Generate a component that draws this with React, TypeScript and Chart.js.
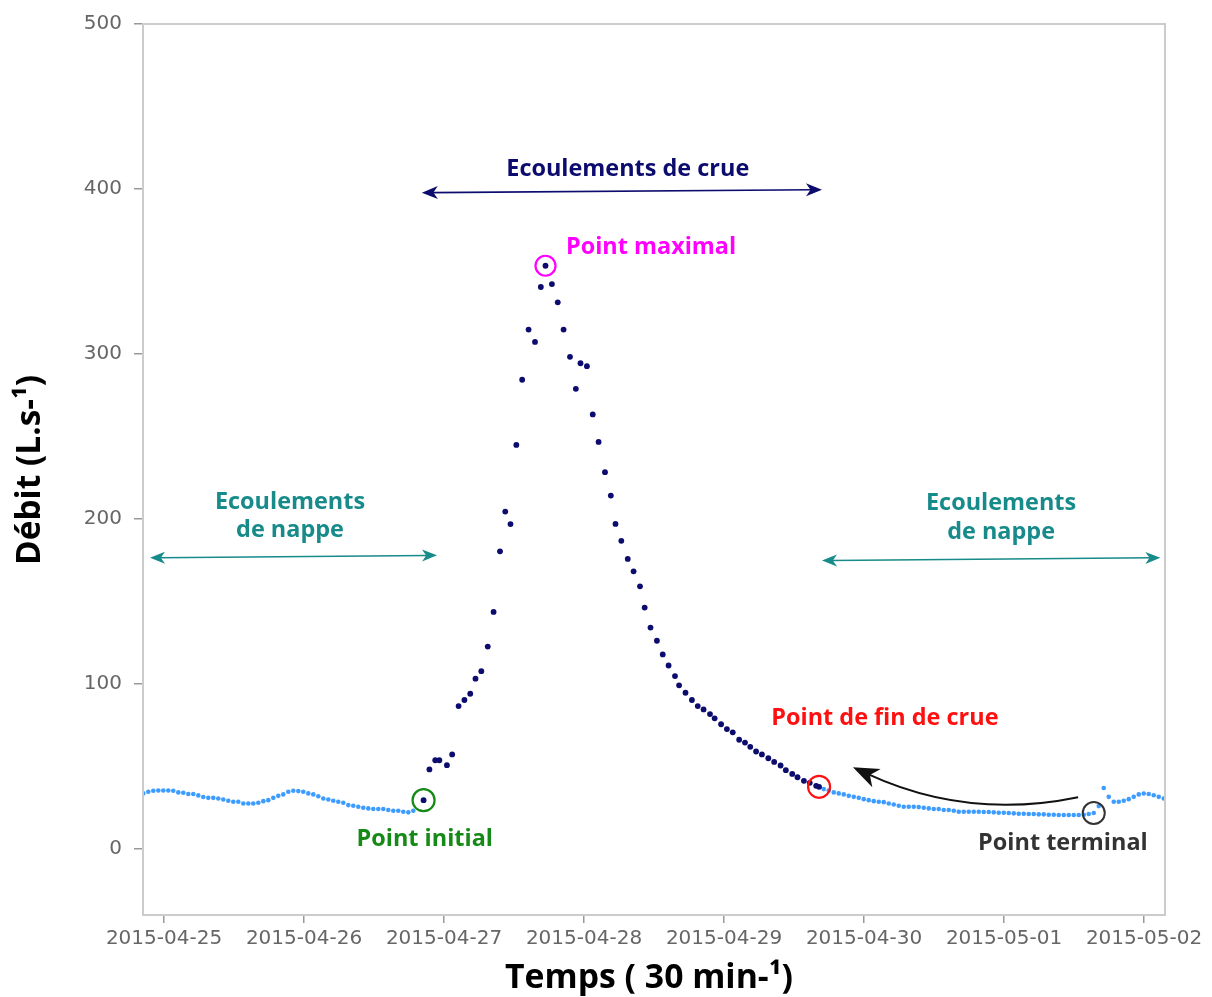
import React, { useEffect, useRef } from "react";
import { Chart, registerables } from "chart.js";

Chart.register(...registerables);

// ---- Axis data (hours since 2015-04-25 00:00) ----
const DAY_LABELS = [
  "2015-04-25", "2015-04-26", "2015-04-27", "2015-04-28",
  "2015-04-29", "2015-04-30", "2015-05-01", "2015-05-02",
];
const DAY_TICK_HOURS = [0, 24, 48, 72, 96, 120, 144, 168];
const Y_TICKS = [0, 100, 200, 300, 400, 500];
const X_MIN = -3.6;
const X_MAX = 171.6;
const Y_MIN = -40;
const Y_MAX = 500;

// ---- Base flow (écoulements de nappe), light blue ----
const BASE_STEP_H = 6 / 7;
const BASE_BEFORE_START_H = -3.55;
const baseBeforeValues = [
  33.7, 34.7, 35.3, 35.5, 35.5, 35.5, 35.3, 34.3, 34.1, 33.3,
  33.3, 32.5, 31.5, 31.0, 31.0, 30.6, 30.0, 29.2, 28.6, 28.6,
  27.6, 27.6, 27.6, 28.0, 29.0, 29.6, 31.0, 32.2, 33.1, 34.7,
  35.3, 35.1, 34.7, 33.7, 33.1, 32.0, 30.6, 30.0, 29.2, 28.6,
  28.0, 26.6, 26.2, 25.6, 25.0, 24.6, 24.2, 24.2, 24.2, 23.6,
  23.2, 23.2, 22.6, 22.2, 23.2,
];
const BASE_AFTER_START_H = 113.1;
const baseAfterValues = [
  36.3, 35.5, 34.3, 33.7, 33.1, 32.2, 31.6, 31.0, 30.2, 29.6,
  29.0, 28.6, 28.4, 27.6, 27.0, 26.2, 25.6, 25.6, 25.6, 25.4,
  25.0, 24.6, 24.2, 24.2, 23.6, 23.6, 23.2, 22.6, 22.6, 22.6,
  22.6, 22.6, 22.4, 22.4, 22.2, 22.0, 22.0, 21.8, 21.6, 21.4,
  21.4, 21.2, 21.2, 21.0, 21.0, 20.8, 20.8, 20.6, 20.6, 20.6,
  20.6, 20.6, 20.8, 21.2, 21.8, 26.0, 37.0, 31.6, 28.6, 28.6,
  29.2, 30.2, 31.6, 33.1, 33.6, 33.3, 32.6, 31.6, 30.6,
];
const TERMINAL_INDEX = 54;

// ---- Flood flow (écoulements de crue), navy ----
const crueHours = [
  44.5, 45.5, 46.5, 47.2, 48.5, 49.4, 50.5, 51.5, 52.5, 53.4,
  54.4, 55.5, 56.5, 57.6, 58.5, 59.4, 60.4, 61.4, 62.5, 63.6,
  64.6, 65.4, 66.5, 67.5, 68.5, 69.6, 70.6, 71.4, 72.5, 73.5,
  74.5, 75.6, 76.6, 77.4, 78.4, 79.5, 80.5, 81.6, 82.4, 83.4,
  84.5, 85.5, 86.5, 87.6, 88.3, 89.4, 90.5, 91.5, 92.5, 93.6,
  94.4, 95.5, 96.5, 97.5, 98.6, 99.6, 100.5, 101.5, 102.5, 103.6,
  104.6, 105.7, 106.6, 107.7, 108.6, 109.7, 110.7, 111.8, 112.3,
];
const crueValues = [
  29.6, 48.2, 53.8, 53.8, 50.8, 57.3, 86.6, 90.3, 94.1, 103.2,
  107.8, 122.7, 143.7, 180.4, 204.5, 196.9, 244.9, 284.4, 314.8, 307.3,
  340.6, 353.5, 342.4, 331.3, 314.8, 298.3, 278.9, 294.4, 292.6, 263.4,
  246.7, 228.4, 214.2, 197.0, 186.8, 175.8, 168.3, 159.2, 146.3, 134.2,
  126.2, 117.9, 111.2, 104.8, 99.2, 94.7, 90.3, 86.6, 84.6, 81.8,
  79.2, 75.6, 72.7, 70.7, 66.2, 64.5, 61.9, 59.1, 57.3, 55.0,
  52.8, 50.6, 47.8, 45.5, 43.5, 41.3, 40.1, 38.3, 37.7,
];

// ---- Styles ----
const NAVY = "#0c0c6e";
const LIGHT_BLUE = "#3d9cff";
const TEAL = "#178a8a";
const MAGENTA = "#ff00ff";
const RED = "#ff1010";
const GREEN = "#168a16";
const DARK = "#333333";
const TICK_COLOR = "#666666";
const FRAME_COLOR = "#cccccc";
const ANN_FONT = '"Open Sans", "DejaVu Sans", sans-serif';

function stealthHead(ctx: CanvasRenderingContext2D, tx: number, ty: number, fx: number, fy: number, len: number, half: number) {
  const ang = Math.atan2(ty - fy, tx - fx);
  const c = Math.cos(ang), s = Math.sin(ang);
  const bx = tx - len * c, by = ty - len * s;
  const nx = tx - len * 0.72 * c, ny = ty - len * 0.72 * s;
  ctx.beginPath();
  ctx.moveTo(tx, ty);
  ctx.lineTo(bx - half * s, by + half * c);
  ctx.lineTo(nx, ny);
  ctx.lineTo(bx + half * s, by - half * c);
  ctx.closePath();
  ctx.fill();
}

function doubleArrow(ctx: CanvasRenderingContext2D, x1: number, y1: number, x2: number, y2: number, color: string, lw: number, len: number, half: number) {
  ctx.strokeStyle = color;
  ctx.fillStyle = color;
  ctx.lineWidth = lw;
  const ang = Math.atan2(y2 - y1, x2 - x1);
  const c = Math.cos(ang), s = Math.sin(ang);
  ctx.beginPath();
  ctx.moveTo(x1 + len * 0.6 * c, y1 + len * 0.6 * s);
  ctx.lineTo(x2 - len * 0.6 * c, y2 - len * 0.6 * s);
  ctx.stroke();
  stealthHead(ctx, x1, y1, x2, y2, len, half);
  stealthHead(ctx, x2, y2, x1, y1, len, half);
}

function fitSize(ctx: CanvasRenderingContext2D, text: string, target: number, weight: string, family: string) {
  ctx.font = `${weight} 100px ${family}`;
  const w = ctx.measureText(text).width;
  return (100 * target) / w;
}

function circle(ctx: CanvasRenderingContext2D, x: number, y: number, r: number, color: string, lw: number) {
  ctx.strokeStyle = color;
  ctx.lineWidth = lw;
  ctx.beginPath();
  ctx.arc(x, y, r, 0, Math.PI * 2);
  ctx.stroke();
}

const annotationPlugin = {
  id: "hydroAnnotations",
  afterDatasetsDraw(chart: any) {
    const { ctx, chartArea: a, scales } = chart;
    const X = (h: number) => scales.x.getPixelForValue(h);
    const Y = (v: number) => scales.y.getPixelForValue(v);
    ctx.save();

    // frame
    ctx.strokeStyle = FRAME_COLOR;
    ctx.lineWidth = 2;
    ctx.strokeRect(a.left, a.top, a.right - a.left, a.bottom - a.top);

    const annSize = fitSize(ctx, "Ecoulements de crue", 243, "bold", ANN_FONT);
    const font = `bold ${annSize.toFixed(2)}px ${ANN_FONT}`;
    ctx.font = font;
    ctx.textBaseline = "middle";

    const text = (t: string, h: number, v: number, color: string, align: CanvasTextAlign) => {
      ctx.fillStyle = color;
      ctx.textAlign = align;
      ctx.font = font;
      ctx.fillText(t, X(h), Y(v));
    };

    // Écoulements de crue
    doubleArrow(ctx, X(44.2), Y(397.8), X(112.8), Y(399.6), NAVY, 1.7, 16, 6.5);
    text("Ecoulements de crue", 79.5, 411.7, NAVY, "center");

    // Nappe left
    doubleArrow(ctx, X(-2.4), Y(176.5), X(46.8), Y(178.0), TEAL, 1.5, 15, 6);
    text("Ecoulements", 21.6, 210.4, TEAL, "center");
    text("de nappe", 21.6, 192.9, TEAL, "center");

    // Nappe right
    doubleArrow(ctx, X(112.8), Y(174.8), X(170.8), Y(176.5), TEAL, 1.5, 15, 6);
    text("Ecoulements", 143.5, 209.2, TEAL, "center");
    text("de nappe", 143.5, 191.7, TEAL, "center");

    // Point maximal
    let iMax = 0;
    crueValues.forEach((v, i) => { if (v > crueValues[iMax]) iMax = i; });
    circle(ctx, X(crueHours[iMax]), Y(crueValues[iMax]), 10, MAGENTA, 2.2);
    text("Point maximal", 68.9, 364.6, MAGENTA, "left");

    // Point initial
    circle(ctx, X(crueHours[0]), Y(crueValues[0]), 11, GREEN, 2.2);
    text("Point initial", 44.7, 6.0, GREEN, "center");

    // Point de fin de crue
    const last = crueHours.length - 1;
    circle(ctx, X(crueHours[last]), Y(crueValues[last]), 11, RED, 2.2);
    text("Point de fin de crue", 104.1, 79.2, RED, "left");

    // Point terminal
    const tH = BASE_AFTER_START_H + TERMINAL_INDEX * BASE_STEP_H;
    circle(ctx, X(tH), Y(baseAfterValues[TERMINAL_INDEX]), 11, DARK, 2);
    text("Point terminal", 154.1, 3.6, DARK, "center");

    // curved black arrow (terminal -> fin de crue)
    const sx = X(156.7), sy = Y(31.4);
    const cx = X(137.7), cy = Y(17.5);
    const ex = X(118.1), ey = Y(49.6);
    const ang = Math.atan2(ey - cy, ex - cx);
    const stopX = ex - 16 * Math.cos(ang), stopY = ey - 16 * Math.sin(ang);
    ctx.strokeStyle = "#111111";
    ctx.fillStyle = "#111111";
    ctx.lineWidth = 2;
    ctx.beginPath();
    ctx.moveTo(sx, sy);
    ctx.quadraticCurveTo(cx, cy, stopX, stopY);
    ctx.stroke();
    stealthHead(ctx, ex, ey, cx, cy, 26, 10);

    ctx.restore();
  },
  afterDraw(chart: any) {
    const { ctx } = chart;
    ctx.save();
    ctx.fillStyle = "#000000";
    ctx.textBaseline = "middle";
    ctx.textAlign = "center";
    const xt = "Temps ( 30 min-¹)";
    const size = fitSize(ctx, xt, 288, "bold", ANN_FONT);
    ctx.font = `bold ${size.toFixed(2)}px ${ANN_FONT}`;
    ctx.fillText(xt, 649, 978);
    const yt = "Débit (L.s-¹)";
    const size2 = fitSize(ctx, yt, 190, "bold", ANN_FONT);
    ctx.font = `bold ${size2.toFixed(2)}px ${ANN_FONT}`;
    ctx.translate(30, 470);
    ctx.rotate(-Math.PI / 2);
    ctx.fillText(yt, 0, 0);
    ctx.restore();
  },
};

export default function App() {
  const ref = useRef<HTMLCanvasElement | null>(null);

  useEffect(() => {
    document.body.style.margin = "0";
    const canvas = ref.current;
    if (!canvas) return;

    const before = baseBeforeValues.map((v, i) => ({ x: BASE_BEFORE_START_H + i * BASE_STEP_H, y: v }));
    const after = baseAfterValues.map((v, i) => ({ x: BASE_AFTER_START_H + i * BASE_STEP_H, y: v }));
    const crue = crueValues.map((v, i) => ({ x: crueHours[i], y: v }));

    const chart = new Chart(canvas, {
      type: "scatter",
      data: {
        datasets: [
          { label: "Crue", data: crue, backgroundColor: NAVY, pointRadius: 2.9, borderWidth: 0, showLine: false },
          { label: "Nappe avant", data: before, backgroundColor: LIGHT_BLUE, pointRadius: 2.3, borderWidth: 0, showLine: false },
          { label: "Nappe après", data: after, backgroundColor: LIGHT_BLUE, pointRadius: 2.3, borderWidth: 0, showLine: false },
        ],
      },
      options: {
        animation: false,
        responsive: false,
        devicePixelRatio: 1,
        layout: { padding: { top: 22, right: 47, left: 0, bottom: 0 } },
        plugins: { legend: { display: false }, tooltip: { enabled: false } },
        scales: {
          x: {
            type: "linear",
            min: X_MIN,
            max: X_MAX,
            afterFit: (s: any) => { s.height = 82; },
            afterBuildTicks: (s: any) => { s.ticks = DAY_TICK_HOURS.map((v) => ({ value: v })); },
            ticks: {
              autoSkip: false,
              maxRotation: 0,
              padding: 4,
              color: TICK_COLOR,
              font: { family: "DejaVu Sans", size: 20 },
              callback: (v: any) => {
                const i = DAY_TICK_HOURS.indexOf(Number(v));
                return i >= 0 ? DAY_LABELS[i] : "";
              },
            },
            grid: { drawOnChartArea: false, drawTicks: true, tickLength: 8, color: "#999999", lineWidth: 1.5 },
            border: { display: true, color: FRAME_COLOR, width: 2 },
          },
          y: {
            type: "linear",
            min: Y_MIN,
            max: Y_MAX,
            afterFit: (s: any) => { s.width = 143; },
            afterBuildTicks: (s: any) => { s.ticks = Y_TICKS.map((v) => ({ value: v })); },
            ticks: {
              padding: 12,
              color: TICK_COLOR,
              font: { family: "DejaVu Sans", size: 20 },
              callback: (v: any) => String(v),
            },
            grid: { drawOnChartArea: false, drawTicks: true, tickLength: 9, color: "#999999", lineWidth: 1.5 },
            border: { display: true, color: "#bbbbbb", width: 2 },
          },
        },
      },
      plugins: [annotationPlugin],
    });

    return () => chart.destroy();
  }, []);

  return (
    <div style={{ width: 1212, height: 997 }}>
      <canvas ref={ref} width={1212} height={997} style={{ display: "block", width: 1212, height: 997 }} />
    </div>
  );
}
